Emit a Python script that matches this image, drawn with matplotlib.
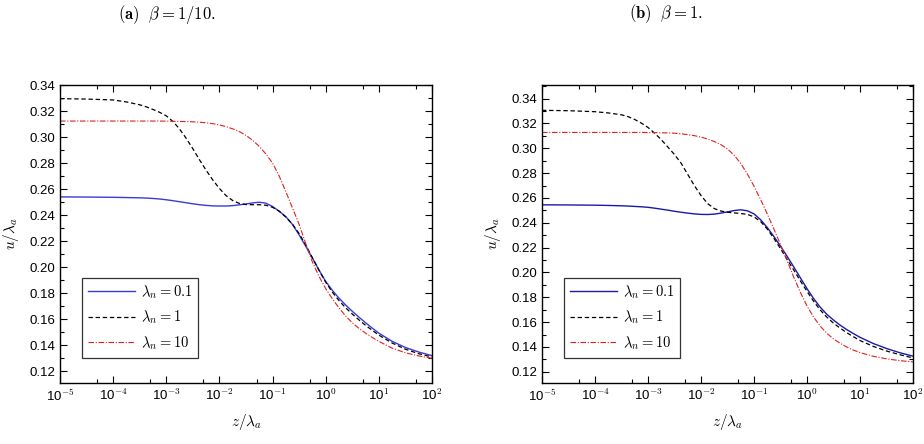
import numpy as np
import matplotlib
matplotlib.use('Agg')
from matplotlib import pyplot as plt
from matplotlib.ticker import (FixedLocator, FixedFormatter, NullFormatter,
                               MultipleLocator, FormatStrFormatter)

plt.rcParams['font.family'] = ['Liberation Sans', 'DejaVu Sans']
plt.rcParams['mathtext.fontset'] = 'cm'

# log10(z / lambda_a)
log_z = [-5, -4.5, -4, -3.75, -3.5, -3.375, -3.25, -3.125, -3, -2.875, -2.75, -2.625,
         -2.5, -2.375, -2.25, -2.125, -2, -1.875, -1.75, -1.625, -1.5, -1.375, -1.25,
         -1.125, -1, -0.875, -0.75, -0.625, -0.5, -0.375, -0.25, -0.125, 0, 0.125,
         0.25, 0.375, 0.5, 0.625, 0.75, 0.875, 1, 1.25, 1.5, 1.75, 2]

# (a) beta = 1/10
a_blue = [0.2540, 0.2539, 0.2537, 0.2535, 0.2533, 0.2531, 0.2528, 0.2524, 0.2518, 0.2511,
          0.2503, 0.2495, 0.2487, 0.2480, 0.2475, 0.2471, 0.2470, 0.2470, 0.2473, 0.2479,
          0.2486, 0.2494, 0.2499, 0.2492, 0.2466, 0.2430, 0.2388, 0.2328, 0.2248, 0.2160,
          0.2070, 0.1977, 0.1890, 0.1822, 0.1762, 0.1709, 0.1661, 0.1616, 0.1573, 0.1532,
          0.1493, 0.1430, 0.1383, 0.1348, 0.1320]
a_black = [0.3295, 0.3292, 0.3285, 0.3270, 0.3248, 0.3232, 0.3212, 0.3190, 0.3163, 0.3120,
           0.3062, 0.2990, 0.2910, 0.2825, 0.2745, 0.2670, 0.2605, 0.2550, 0.2512, 0.2490,
           0.2481, 0.2480, 0.2480, 0.2476, 0.2460, 0.2430, 0.2385, 0.2330, 0.2258, 0.2170,
           0.2072, 0.1975, 0.1885, 0.1808, 0.1743, 0.1688, 0.1640, 0.1595, 0.1553, 0.1515,
           0.1478, 0.1417, 0.1370, 0.1335, 0.1310]
a_red = [0.3123, 0.3123, 0.3123, 0.3123, 0.3123, 0.3123, 0.3123, 0.3123, 0.3122, 0.3121,
         0.3120, 0.3119, 0.3117, 0.3114, 0.3110, 0.3103, 0.3093, 0.3080, 0.3063, 0.3042,
         0.3013, 0.2975, 0.2928, 0.2870, 0.2800, 0.2700, 0.2580, 0.2455, 0.2328, 0.2180,
         0.2040, 0.1928, 0.1835, 0.1757, 0.1687, 0.1625, 0.1573, 0.1530, 0.1493, 0.1460,
         0.1430, 0.1378, 0.1342, 0.1318, 0.1300]

# (b) beta = 1
b_blue = [0.2545, 0.2544, 0.2542, 0.2540, 0.2537, 0.2535, 0.2532, 0.2529, 0.2525, 0.2518,
          0.2510, 0.2502, 0.2493, 0.2485, 0.2478, 0.2472, 0.2468, 0.2467, 0.2470, 0.2478,
          0.2488, 0.2499, 0.2505, 0.2497, 0.2472, 0.2425, 0.2362, 0.2290, 0.2212, 0.2130,
          0.2045, 0.1957, 0.1870, 0.1790, 0.1720, 0.1663, 0.1617, 0.1576, 0.1540, 0.1508,
          0.1478, 0.1428, 0.1388, 0.1354, 0.1326]
b_black = [0.3306, 0.3303, 0.3295, 0.3285, 0.3270, 0.3255, 0.3232, 0.3203, 0.3168, 0.3122,
           0.3070, 0.3010, 0.2950, 0.2880, 0.2790, 0.2700, 0.2620, 0.2555, 0.2515, 0.2495,
           0.2485, 0.2480, 0.2475, 0.2468, 0.2448, 0.2410, 0.2350, 0.2275, 0.2192, 0.2105,
           0.2020, 0.1932, 0.1848, 0.1768, 0.1698, 0.1640, 0.1592, 0.1552, 0.1515, 0.1483,
           0.1452, 0.1405, 0.1368, 0.1338, 0.1312]
b_red = [0.3128, 0.3128, 0.3128, 0.3128, 0.3128, 0.3128, 0.3128, 0.3128, 0.3127, 0.3126,
         0.3125, 0.3124, 0.3122, 0.3117, 0.3110, 0.3102, 0.3090, 0.3075, 0.3055, 0.3030,
         0.2995, 0.2945, 0.2878, 0.2793, 0.2695, 0.2587, 0.2472, 0.2350, 0.2225, 0.2095,
         0.1962, 0.1840, 0.1730, 0.1640, 0.1568, 0.1510, 0.1465, 0.1430, 0.1400, 0.1375,
         0.1355, 0.1325, 0.1305, 0.1290, 0.1280]

labels = [r'$\lambda_n = 0.1$', r'$\lambda_n = 1$', r'$\lambda_n = 10$']
titles = [r'$\mathbf{(a)}\ \ \beta = 1/10.$', r'$\mathbf{(b)}\ \ \beta = 1.$']
x_exps = [-5, -4, -3, -2, -1, 0, 1, 2]
x_ticklabels = [r'10$^{\mathsf{%d}}$' % e for e in x_exps]

z = 10.0 ** np.array(log_z)

fig = plt.figure(figsize=(9.24, 4.44), dpi=100)
W, H = 924, 444
ax_a = fig.add_axes([60 / W, 1 - 383 / H, 372 / W, 298 / H])
ax_b = fig.add_axes([542 / W, 1 - 383 / H, 371 / W, 298 / H])

panels = [
    (ax_a, a_blue, a_black, a_red, (0.111, 0.340), '#3a3ad8'),
    (ax_b, b_blue, b_black, b_red, (0.111, 0.351), '#1a1aa8'),
]

for ax, blue, black, red, ylim, bcol in panels:
    ax.plot(z, blue, color=bcol, lw=1.0, label=labels[0])
    ax.plot(z, black, color='black', lw=0.9, ls=(0, (3.5, 2.2)), label=labels[1])
    ax.plot(z, red, color='#e02020', lw=0.8, ls=(0, (5, 1.5, 1, 1.5)), label=labels[2])
    ax.set_xscale('log')
    ax.set_xlim(1e-5, 1e2)
    ax.set_ylim(*ylim)
    ax.xaxis.set_major_locator(FixedLocator(10.0 ** np.array(x_exps)))
    ax.xaxis.set_major_formatter(FixedFormatter(x_ticklabels))
    ax.xaxis.set_minor_locator(FixedLocator(5 * 10.0 ** np.arange(-5, 2)))
    ax.xaxis.set_minor_formatter(NullFormatter())
    ax.yaxis.set_major_locator(MultipleLocator(0.02))
    ax.yaxis.set_minor_locator(MultipleLocator(0.01))
    ax.yaxis.set_major_formatter(FormatStrFormatter('%.2f'))
    ax.tick_params(which='both', direction='in', top=True, right=True, labelsize=9.5)
    ax.tick_params(which='major', length=5, width=0.8)
    ax.tick_params(which='minor', length=3, width=0.8)
    for s in ax.spines.values():
        s.set_linewidth(1.0)
    ax.set_xlabel(r'$z/\lambda_a$', fontsize=11, labelpad=6)
    ax.set_ylabel(r'$u/\lambda_a$', fontsize=11, labelpad=6)
    leg = ax.legend(loc='lower left', bbox_to_anchor=(0.06, 0.085), fontsize=10.5,
                    frameon=True, fancybox=False, edgecolor='black', handlelength=3.2,
                    handletextpad=0.4, borderpad=0.4, labelspacing=0.55, borderaxespad=0)
    leg.get_frame().set_linewidth(0.9)

fig.text(167 / W, 1 - 14 / H, titles[0], ha='center', va='center', fontsize=12)
fig.text(666 / W, 1 - 14 / H, titles[1], ha='center', va='center', fontsize=12)

fig.savefig('out.png', dpi=100)
